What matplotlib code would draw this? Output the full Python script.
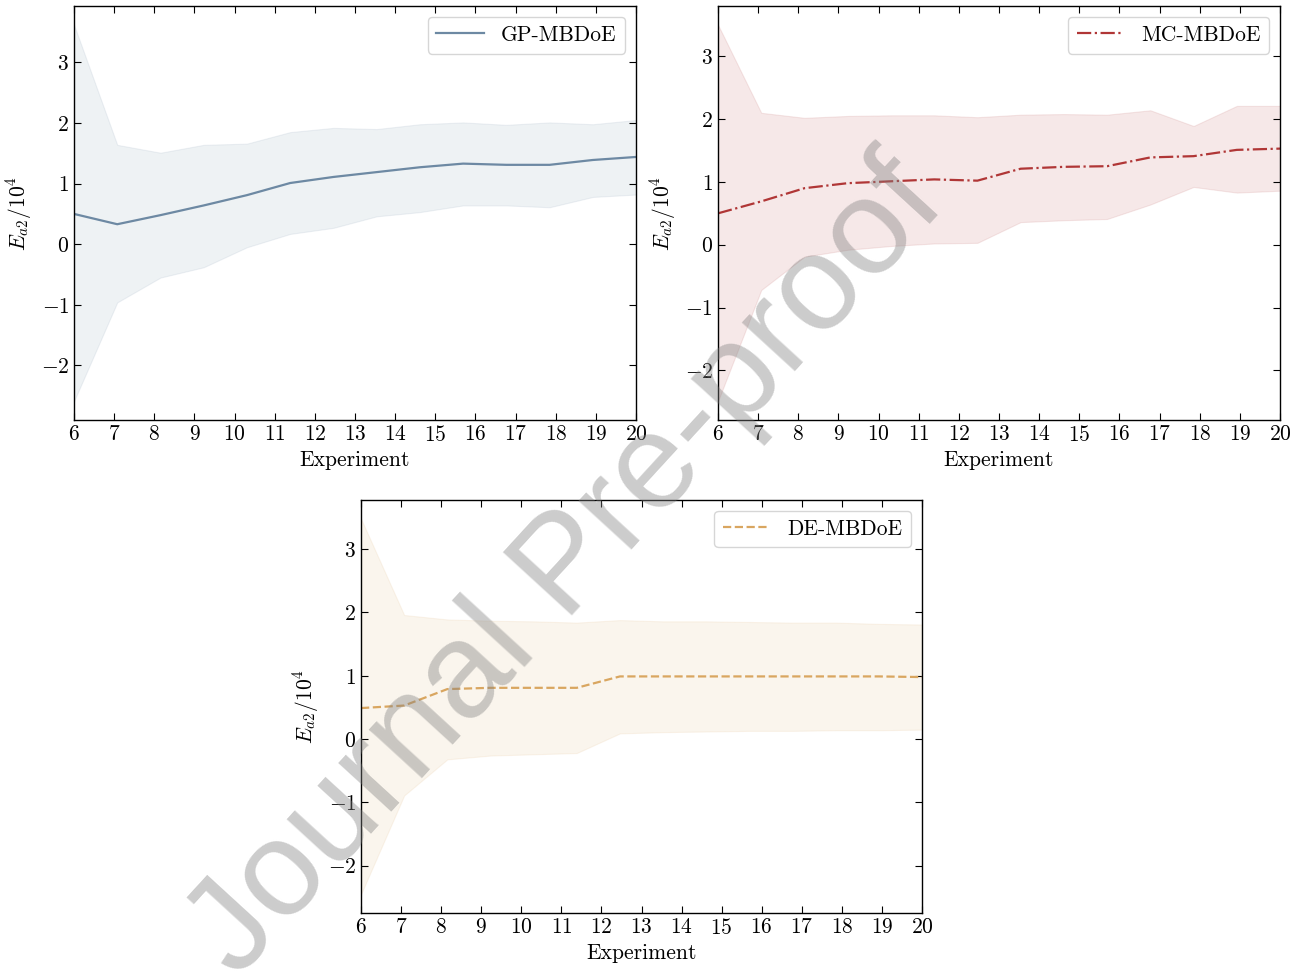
import numpy as np
import matplotlib
matplotlib.use("Agg")
import matplotlib.pyplot as plt

plt.rcParams.update({
    "font.family": "serif",
    "font.serif": ["cmr10"],
    "mathtext.fontset": "cm",
    "axes.formatter.use_mathtext": True,
    "axes.unicode_minus": True,
    "font.size": 15.5,
    "xtick.direction": "in",
    "ytick.direction": "in",
    "xtick.top": True,
    "ytick.right": True,
    "xtick.major.size": 5,
    "ytick.major.size": 5,
    "axes.linewidth": 1.0,
})

# ---- data (values / 10^4) ----
gp_mean  = [0.50, 0.33, 0.48, 0.64, 0.81, 1.01, 1.11, 1.19, 1.27, 1.33, 1.31, 1.31, 1.39, 1.44]
gp_upper = [3.62, 1.64, 1.51, 1.64, 1.66, 1.85, 1.92, 1.90, 1.98, 2.01, 1.97, 2.01, 1.98, 2.05]
gp_lower = [-2.59, -0.96, -0.55, -0.38, -0.05, 0.17, 0.27, 0.46, 0.53, 0.64, 0.64, 0.61, 0.78, 0.82]

mc_mean  = [0.50, 0.69, 0.90, 0.98, 1.01, 1.04, 1.02, 1.21, 1.24, 1.25, 1.39, 1.41, 1.51, 1.53]
mc_upper = [3.50, 2.10, 2.02, 2.05, 2.06, 2.06, 2.03, 2.07, 2.08, 2.07, 2.14, 1.89, 2.21, 2.21]
mc_lower = [-2.49, -0.72, -0.19, -0.08, -0.02, 0.02, 0.03, 0.36, 0.39, 0.41, 0.64, 0.92, 0.83, 0.86]

de_mean  = [0.49, 0.53, 0.79, 0.81, 0.81, 0.81, 0.99, 0.99, 0.99, 0.99, 0.99, 0.99, 0.99, 0.98]
de_upper = [3.48, 1.96, 1.89, 1.87, 1.86, 1.84, 1.88, 1.86, 1.86, 1.85, 1.84, 1.84, 1.82, 1.81]
de_lower = [-2.45, -0.89, -0.32, -0.26, -0.24, -0.22, 0.09, 0.11, 0.12, 0.13, 0.13, 0.14, 0.14, 0.15]

x_start, x_end = 6, 20
xtick_labels = list(range(6, 21))
labels = ["GP-MBDoE", "MC-MBDoE", "DE-MBDoE"]
colors = ["#6d89a3", "#b03636", "#d9a660"]
styles = ["-", "-.", "--"]

fig = plt.figure(figsize=(13.01, 9.72), dpi=100)
positions = [
    [0.0569, 0.5679, 0.4320, 0.4259],
    [0.5519, 0.5679, 0.4320, 0.4259],
    [0.2775, 0.0607, 0.4312, 0.4249],
]
series = [(gp_mean, gp_lower, gp_upper), (mc_mean, mc_lower, mc_upper), (de_mean, de_lower, de_upper)]

for pos, (m, lo, hi), lab, c, ls in zip(positions, series, labels, colors, styles):
    ax = fig.add_axes(pos)
    x = np.linspace(x_start, x_end, len(m))
    ax.fill_between(x, lo, hi, color=c, alpha=0.11, linewidth=0.8)
    ax.plot(x, m, color=c, linestyle=ls, linewidth=1.6, label=lab)
    ax.set_xlim(x_start, x_end)
    ax.set_xticks(xtick_labels)
    ax.set_yticks([-2, -1, 0, 1, 2, 3])
    ax.set_xlabel("Experiment", labelpad=4)
    ax.set_ylabel(r"$E_{a2}/10^4$", labelpad=5)
    ax.legend(loc="upper right", fancybox=True, framealpha=0.8, edgecolor="#cccccc",
              handlelength=2.2, borderpad=0.4)

fig.text(0.436, 0.415, "Journal Pre-proof", fontsize=98, family="Liberation Sans",
         color="#808080", alpha=0.4, rotation=47.5, ha="center", va="center",
         rotation_mode="anchor")

fig.savefig("out.png", dpi=100)
